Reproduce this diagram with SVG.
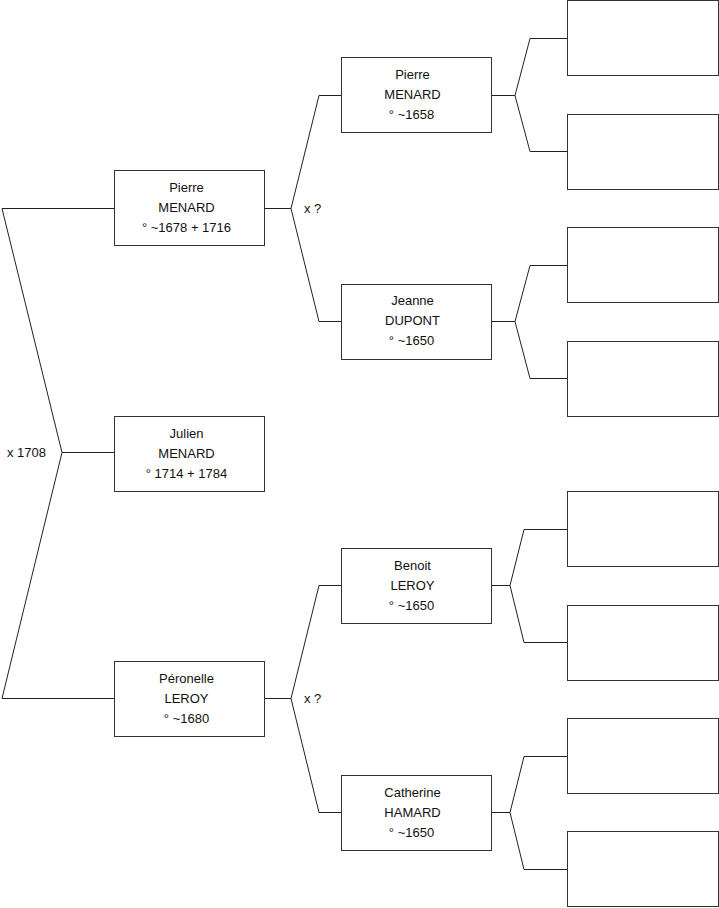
<svg xmlns="http://www.w3.org/2000/svg" width="719" height="908" viewBox="0 0 719 908">
<style>
.box{fill:#fff;stroke:#333;stroke-width:1}
.ln{fill:none;stroke:#222;stroke-width:1}
text{font-family:"Liberation Sans",Arial,sans-serif;font-size:13px;fill:#111}
.c{text-anchor:middle}
</style>
<rect width="719" height="908" fill="#fff"/>
<g id="connectors">
<polyline class="ln" points="114,208.5 2,208.5 62,452.5 2,698.5 114,698.5"/>
<line class="ln" x1="62" y1="452.5" x2="114" y2="452.5"/>
<polyline class="ln" points="341,95.5 319,95.5 291,208.5 319,321.5 341,321.5"/>
<line class="ln" x1="265" y1="208.5" x2="291" y2="208.5"/>
<polyline class="ln" points="341,585.5 319,585.5 291,698.5 319,812.5 341,812.5"/>
<line class="ln" x1="265" y1="698.5" x2="291" y2="698.5"/>
<polyline class="ln" points="567,38.5 530,38.5 515,95.5 530,151.5 567,151.5"/>
<line class="ln" x1="492" y1="95.5" x2="515" y2="95.5"/>
<polyline class="ln" points="567,265.5 530,265.5 515,321.5 530,378.5 567,378.5"/>
<line class="ln" x1="492" y1="321.5" x2="515" y2="321.5"/>
<polyline class="ln" points="567,529.5 524,529.5 510,585.5 524,642.5 567,642.5"/>
<line class="ln" x1="492" y1="585.5" x2="510" y2="585.5"/>
<polyline class="ln" points="567,756.5 524,756.5 510,812.5 524,869.5 567,869.5"/>
<line class="ln" x1="492" y1="812.5" x2="510" y2="812.5"/>
<text x="7" y="457">x 1708</text>
<text x="304" y="213">x ?</text>
<text x="304" y="703">x ?</text>
</g>
<g id="julien">
<rect class="box" x="114.5" y="416.5" width="150" height="75"/>
<text class="c" x="186.5" y="438">Julien</text>
<text class="c" x="186.5" y="458">MENARD</text>
<text class="c" x="186.5" y="478">° 1714 + 1784</text>
</g>
<g id="pierre1">
<rect class="box" x="114.5" y="170.5" width="150" height="75"/>
<text class="c" x="186.5" y="192">Pierre</text>
<text class="c" x="186.5" y="212">MENARD</text>
<text class="c" x="186.5" y="232">° ~1678 + 1716</text>
</g>
<g id="peronelle">
<rect class="box" x="114.5" y="661.5" width="150" height="75"/>
<text class="c" x="186.5" y="683">Péronelle</text>
<text class="c" x="186.5" y="703">LEROY</text>
<text class="c" x="186.5" y="723">° ~1680</text>
</g>
<g id="pierre2">
<rect class="box" x="341.5" y="57.5" width="150" height="75"/>
<text class="c" x="412.5" y="79">Pierre</text>
<text class="c" x="412.5" y="99">MENARD</text>
<text class="c" x="411.5" y="119">° ~1658</text>
</g>
<g id="jeanne">
<rect class="box" x="341.5" y="284.5" width="150" height="75"/>
<text class="c" x="412.5" y="305">Jeanne</text>
<text class="c" x="412.5" y="325">DUPONT</text>
<text class="c" x="411.5" y="345">° ~1650</text>
</g>
<g id="benoit">
<rect class="box" x="341.5" y="548.5" width="150" height="75"/>
<text class="c" x="412.5" y="570">Benoit</text>
<text class="c" x="412.5" y="590">LEROY</text>
<text class="c" x="411.5" y="610">° ~1650</text>
</g>
<g id="catherine">
<rect class="box" x="341.5" y="775.5" width="150" height="75"/>
<text class="c" x="412.5" y="797">Catherine</text>
<text class="c" x="412.5" y="817">HAMARD</text>
<text class="c" x="411.5" y="837">° ~1650</text>
</g>
<g id="g4a"><rect class="box" x="567.5" y="0.5" width="151" height="75"/></g>
<g id="g4b"><rect class="box" x="567.5" y="114.5" width="151" height="75"/></g>
<g id="g4c"><rect class="box" x="567.5" y="227.5" width="151" height="75"/></g>
<g id="g4d"><rect class="box" x="567.5" y="341.5" width="151" height="75"/></g>
<g id="g4e"><rect class="box" x="567.5" y="491.5" width="151" height="75"/></g>
<g id="g4f"><rect class="box" x="567.5" y="605.5" width="151" height="75"/></g>
<g id="g4g"><rect class="box" x="567.5" y="718.5" width="151" height="75"/></g>
<g id="g4h"><rect class="box" x="567.5" y="831.5" width="151" height="75"/></g>
</svg>
